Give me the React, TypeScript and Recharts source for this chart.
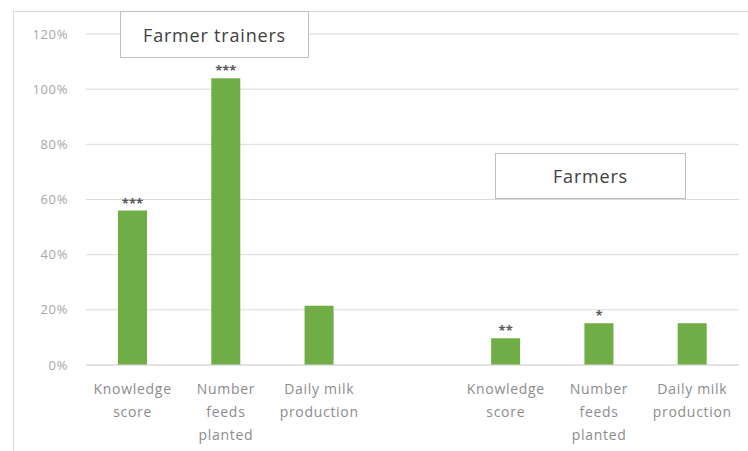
import React from "react";
import {
  BarChart,
  Bar,
  XAxis,
  YAxis,
  CartesianGrid,
  LabelList,
} from "recharts";

// categories (the empty one is the gap between the two groups)
const categoryIds = ["ft-k", "ft-n", "ft-d", "gap", "f-k", "f-n", "f-d"];
const tickLines = [
  ["Knowledge", "score"],
  ["Number", "feeds", "planted"],
  ["Daily milk", "production"],
  [],
  ["Knowledge", "score"],
  ["Number", "feeds", "planted"],
  ["Daily milk", "production"],
];
const changeValues = [0.56, 1.04, 0.215, null, 0.097, 0.151, 0.151];
const significance = ["***", "***", "", "", "**", "*", ""];
const yTicks = [0, 0.2, 0.4, 0.6, 0.8, 1.0, 1.2];

const data = categoryIds.map((id, i) => ({
  id,
  value: changeValues[i],
  sig: significance[i],
}));

const FONT = "'Open Sans', 'DejaVu Sans', sans-serif";

function CategoryTick(props: any) {
  const { x, y, index } = props;
  const lines = tickLines[index] || [];
  return (
    <text
      x={x}
      y={y}
      textAnchor="middle"
      fill="#8c8c8c"
      fontSize={14}
      letterSpacing={0.7}
      fontFamily={FONT}
    >
      {lines.map((line, i) => (
        <tspan key={i} x={x} dy={i === 0 ? 21 : 23}>
          {line}
        </tspan>
      ))}
    </text>
  );
}

const boxStyle: React.CSSProperties = {
  position: "absolute",
  border: "1px solid #bfbfbf",
  background: "#fff",
  boxSizing: "border-box",
  display: "flex",
  alignItems: "center",
  justifyContent: "center",
  fontFamily: FONT,
  fontSize: 18,
  letterSpacing: 0.8,
  color: "#404040",
};

export default function App() {
  return (
    <div
      style={{
        position: "absolute",
        left: 0,
        top: 0,
        width: 748,
        height: 451,
        background: "#fff",
        overflow: "hidden",
      }}
    >
      <div
        style={{
          position: "absolute",
          left: 13,
          top: 11,
          width: 740,
          height: 450,
          borderLeft: "1px solid #d9d9d9",
          borderTop: "1px solid #d9d9d9",
        }}
      />
      <BarChart
        width={748}
        height={451}
        data={data}
        margin={{ top: 34, right: 9, bottom: 6, left: 26 }}
        barCategoryGap={32}
      >
        <CartesianGrid vertical={false} stroke="#d9d9d9" />
        <XAxis
          dataKey="id"
          axisLine={{ stroke: "#d9d9d9" }}
          tickLine={false}
          height={80}
          interval={0}
          tick={<CategoryTick />}
        />
        <YAxis
          width={60}
          domain={[0, 1.2]}
          ticks={yTicks}
          axisLine={false}
          tickLine={false}
          tickSize={0}
          tickMargin={18}
          tickFormatter={(v: number) => `${Math.round(v * 100)}%`}
          tick={{
            fill: "#a6a6a6",
            fontSize: 13,
            letterSpacing: 0.6,
            fontFamily: FONT,
          }}
        />
        <Bar
          dataKey="value"
          fill="#70ad47"
          barSize={29}
          isAnimationActive={false}
        >
          <LabelList
            dataKey="sig"
            position="top"
            offset={3}
            fill="#595959"
            fontSize={13}
            fontWeight="bold"
            fontFamily={FONT}
          />
        </Bar>
      </BarChart>
      <div style={{ ...boxStyle, left: 120, top: 11, width: 189, height: 47 }}>
        Farmer trainers
      </div>
      <div style={{ ...boxStyle, left: 495, top: 153, width: 191, height: 46 }}>
        Farmers
      </div>
    </div>
  );
}
